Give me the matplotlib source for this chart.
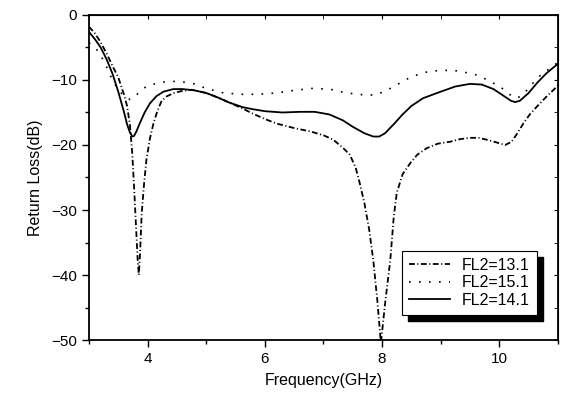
import matplotlib
matplotlib.use("Agg")
import matplotlib.pyplot as plt
from matplotlib.patches import Rectangle
from matplotlib.ticker import MultipleLocator

plt.rcParams['font.family'] = ['Liberation Sans', 'DejaVu Sans']

# data
freq_131 = [3.0, 3.1, 3.2, 3.3, 3.4, 3.5, 3.6, 3.65, 3.7, 3.74, 3.77, 3.8, 3.83, 3.85,
            3.87, 3.9, 3.94, 3.98, 4.04, 4.1, 4.17, 4.24, 4.33, 4.45, 4.58, 4.75, 5.0,
            5.2, 5.4, 5.6, 5.8, 6.0, 6.2, 6.5, 6.77, 7.0, 7.17, 7.34, 7.45, 7.55, 7.62,
            7.7, 7.78, 7.85, 7.92, 7.98, 8.05, 8.14, 8.2, 8.25, 8.35, 8.48, 8.6, 8.76,
            8.95, 9.16, 9.33, 9.5, 9.65, 9.79, 9.95, 10.1, 10.21, 10.3, 10.41, 10.52,
            10.64, 10.8, 10.95, 11.0]
rl_131 = [-1.8, -2.8, -4.2, -5.9, -7.8, -9.6, -12.3, -14.0, -17.0, -21.5, -26.5, -32.0,
          -37.5, -40.0, -37.0, -30.5, -26.0, -22.3, -19.0, -16.7, -14.7, -13.2, -12.5,
          -12.0, -11.7, -11.5, -12.0, -12.7, -13.5, -14.3, -15.2, -16.0, -16.7, -17.4,
          -17.9, -18.5, -19.2, -20.5, -21.5, -23.5, -25.9, -29.0, -33.0, -37.7, -44.0,
          -50.5, -44.5, -37.7, -31.0, -27.4, -24.5, -22.8, -21.5, -20.5, -19.8, -19.5,
          -19.1, -18.9, -18.9, -19.2, -19.6, -20.0, -19.5, -18.3, -16.7, -15.3, -14.1,
          -12.6, -11.3, -10.8]

freq_151 = [3.0, 3.1, 3.2, 3.3, 3.4, 3.5, 3.6, 3.7, 3.8, 3.9, 4.0, 4.2, 4.4, 4.6, 4.8,
            5.0, 5.3, 5.6, 5.9, 6.2, 6.5, 6.8, 7.1, 7.4, 7.7, 7.9, 8.1, 8.3, 8.5, 8.75,
            9.0, 9.3, 9.6, 9.85, 10.05, 10.2, 10.3, 10.4, 10.55, 10.7, 10.85, 11.0]
rl_151 = [-4.3, -4.9, -6.2, -8.0, -10.0, -11.5, -12.5, -13.0, -12.4, -11.5, -10.9,
          -10.4, -10.2, -10.3, -10.6, -11.3, -12.0, -12.2, -12.2, -12.0, -11.6, -11.3,
          -11.4, -12.0, -12.3, -12.3, -11.5, -10.5, -9.5, -8.8, -8.5, -8.6, -9.2, -10.2,
          -11.3, -12.4, -12.8, -12.3, -10.7, -9.3, -8.3, -7.3]

freq_141 = [3.0, 3.1, 3.2, 3.3, 3.4, 3.5, 3.6, 3.65, 3.7, 3.74, 3.77, 3.81, 3.87, 3.95,
            4.04, 4.15, 4.27, 4.44, 4.6, 4.8, 5.0, 5.2, 5.4, 5.63, 5.8, 6.0, 6.3, 6.6,
            6.85, 7.1, 7.33, 7.5, 7.7, 7.85, 7.95, 8.05, 8.2, 8.35, 8.5, 8.7, 9.0, 9.25,
            9.5, 9.7, 9.9, 10.05, 10.2, 10.27, 10.35, 10.5, 10.64, 10.8, 11.0]
rl_141 = [-2.6, -3.7, -5.0, -6.8, -9.0, -11.8, -15.0, -16.8, -18.1, -18.7, -18.6, -17.9,
          -16.6, -15.0, -13.6, -12.5, -11.8, -11.4, -11.4, -11.6, -12.0, -12.7, -13.5,
          -14.2, -14.5, -14.8, -15.0, -14.9, -14.9, -15.3, -16.2, -17.2, -18.2, -18.7,
          -18.7, -18.2, -16.8, -15.3, -14.0, -12.8, -11.8, -11.0, -10.6, -10.7, -11.4,
          -12.3, -13.2, -13.4, -13.2, -12.0, -10.5, -9.0, -7.5]

fig = plt.figure(figsize=(5.63, 3.94), dpi=100)
ax = fig.add_axes([0.158, 0.137, 0.833, 0.825])

ax.plot(freq_131, rl_131, color='k', lw=1.3, linestyle=(0, (3.2, 1.4, 0.6, 1.4)), label='FL2=13.1')
ax.plot(freq_151, rl_151, color='k', lw=1.2, linestyle=(0, (1, 5)), label='FL2=15.1')
ax.plot(freq_141, rl_141, color='k', lw=1.3, label='FL2=14.1')

ax.set_xlim(3, 11)
ax.set_ylim(-50, 0)
ax.xaxis.set_major_locator(MultipleLocator(2))
ax.xaxis.set_minor_locator(MultipleLocator(1))
ax.yaxis.set_major_locator(MultipleLocator(10))
ax.yaxis.set_minor_locator(MultipleLocator(5))
ax.tick_params(which='both', direction='out', labelsize=11, width=1)
ax.tick_params(which='major', length=5)
ax.tick_params(which='minor', length=3)

# inward ticks on the top and right sides, no labels
ax_top = ax.secondary_xaxis('top')
ax_top.xaxis.set_major_locator(MultipleLocator(2))
ax_top.xaxis.set_minor_locator(MultipleLocator(1))
ax_top.tick_params(which='both', direction='in', labeltop=False, length=3)
ax_right = ax.secondary_yaxis('right')
ax_right.yaxis.set_major_locator(MultipleLocator(10))
ax_right.yaxis.set_minor_locator(MultipleLocator(5))
ax_right.tick_params(which='both', direction='in', labelright=False, length=3)

for s in ax.spines.values():
    s.set_linewidth(1.3)

ax.set_xlabel('Frequency(GHz)', fontsize=11.5, labelpad=5)
ax.set_ylabel('Return Loss(dB)', fontsize=11.5, labelpad=6)

leg = ax.legend(loc='lower left', bbox_to_anchor=(0.667, 0.077), fontsize=11.5,
                frameon=True, fancybox=False, edgecolor='k', framealpha=1,
                handlelength=2.6, handletextpad=0.7, labelspacing=0.15,
                borderpad=0.45, borderaxespad=0)
leg.get_frame().set_linewidth(0.8)

# black drop shadow behind the legend
fig.canvas.draw()
bb = leg.get_window_extent().transformed(ax.transAxes.inverted())
ax.add_patch(Rectangle((bb.x0 + 0.013, bb.y0 - 0.019), bb.width, bb.height,
                       transform=ax.transAxes, color='k', zorder=4.5, clip_on=False))

fig.savefig('out.png', dpi=100)
